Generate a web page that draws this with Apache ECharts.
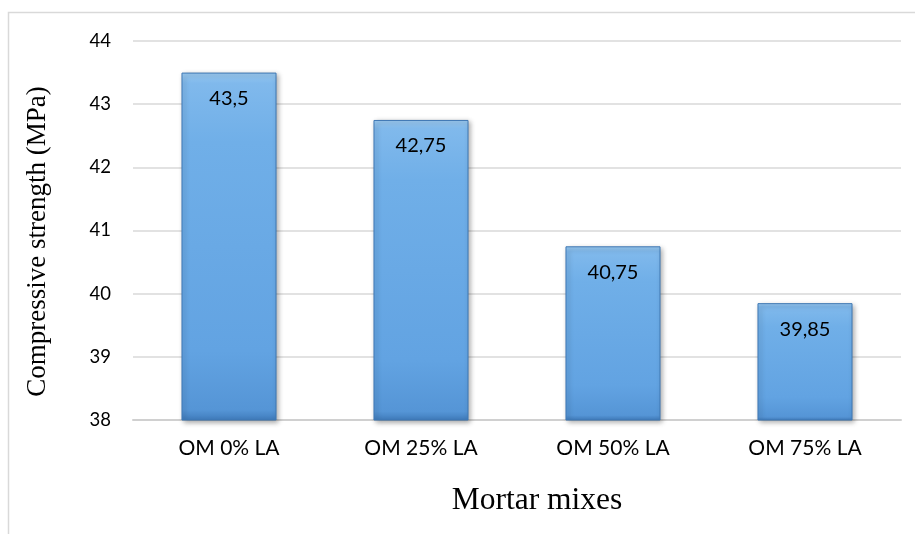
<!DOCTYPE html>
<html>
<head>
<meta charset="utf-8">
<script src="https://cdn.jsdelivr.net/npm/echarts@6/dist/echarts.min.js"></script>
<style>html,body{margin:0;padding:0;background:#fff}#c{width:915px;height:534px}</style>
</head>
<body>
<div id="c"></div>
<script>
var categories = ["OM 0% LA", "OM 25% LA", "OM 50% LA", "OM 75% LA"];
var values = [43.5, 42.75, 40.75, 39.85];
var yTicks = [38, 39, 40, 41, 42, 43, 44];
var yTitle = "Compressive strength (MPa)";
var xTitle = "Mortar mixes";

var chart = echarts.init(document.getElementById('c'));
chart.setOption({
  animation: false,
  backgroundColor: '#ffffff',
  graphic: [{
    type: 'rect', silent: true,
    shape: {x: 8.5, y: 12.5, width: 1000, height: 600},
    style: {fill: 'none', stroke: '#d9d9d9', lineWidth: 1.5}
  }],
  grid: {left: 133, right: 14, top: 41, bottom: 114},
  xAxis: {
    type: 'category',
    data: categories,
    name: xTitle,
    nameLocation: 'middle',
    nameGap: 65,
    nameTextStyle: {fontFamily: 'Liberation Serif', fontSize: 31.5, color: '#000', padding: [0, 0, 0, 40]},
    axisLine: {show: true, lineStyle: {color: '#d0d0d0', width: 2}},
    axisTick: {show: false},
    axisLabel: {fontFamily: 'Lato', fontSize: 21, color: '#000', margin: 18}
  },
  yAxis: {
    type: 'value',
    min: yTicks[0],
    max: yTicks[yTicks.length - 1],
    interval: 1,
    name: yTitle,
    nameLocation: 'middle',
    nameGap: 82,
    nameTextStyle: {fontFamily: 'Liberation Serif', fontSize: 27, color: '#000', padding: [0, 22, 0, 0]},
    axisLine: {show: false},
    axisTick: {show: false},
    axisLabel: {fontFamily: 'Lato', fontSize: 18.5, color: '#000', margin: 22,
      formatter: function (v) { return String(v); }},
    splitLine: {lineStyle: {color: '#d9d9d9', width: 1.5}}
  },
  series: [{
    type: 'bar',
    data: values,
    barWidth: '49.5%',
    itemStyle: {
      color: new echarts.graphic.LinearGradient(0, 0, 0, 1, [
        {offset: 0, color: '#9ccbf2'},
        {offset: 0.03, color: '#80b9ec'},
        {offset: 0.2, color: '#70afe8'},
        {offset: 0.8, color: '#62a3e2'},
        {offset: 0.97, color: '#5595d6'},
        {offset: 1, color: '#3f7bbb'}
      ]),
      borderColor: '#3f78b4',
      borderWidth: 1,
      shadowColor: 'rgba(0,0,0,0.35)',
      shadowBlur: 5,
      shadowOffsetX: 2,
      shadowOffsetY: 2
    },
    label: {
      show: true,
      position: 'insideTop',
      distance: 16,
      fontFamily: 'Lato',
      fontSize: 20,
      color: '#000',
      formatter: function (p) { return String(p.value).replace('.', ','); }
    }
  }]
});
</script>
</body>
</html>
